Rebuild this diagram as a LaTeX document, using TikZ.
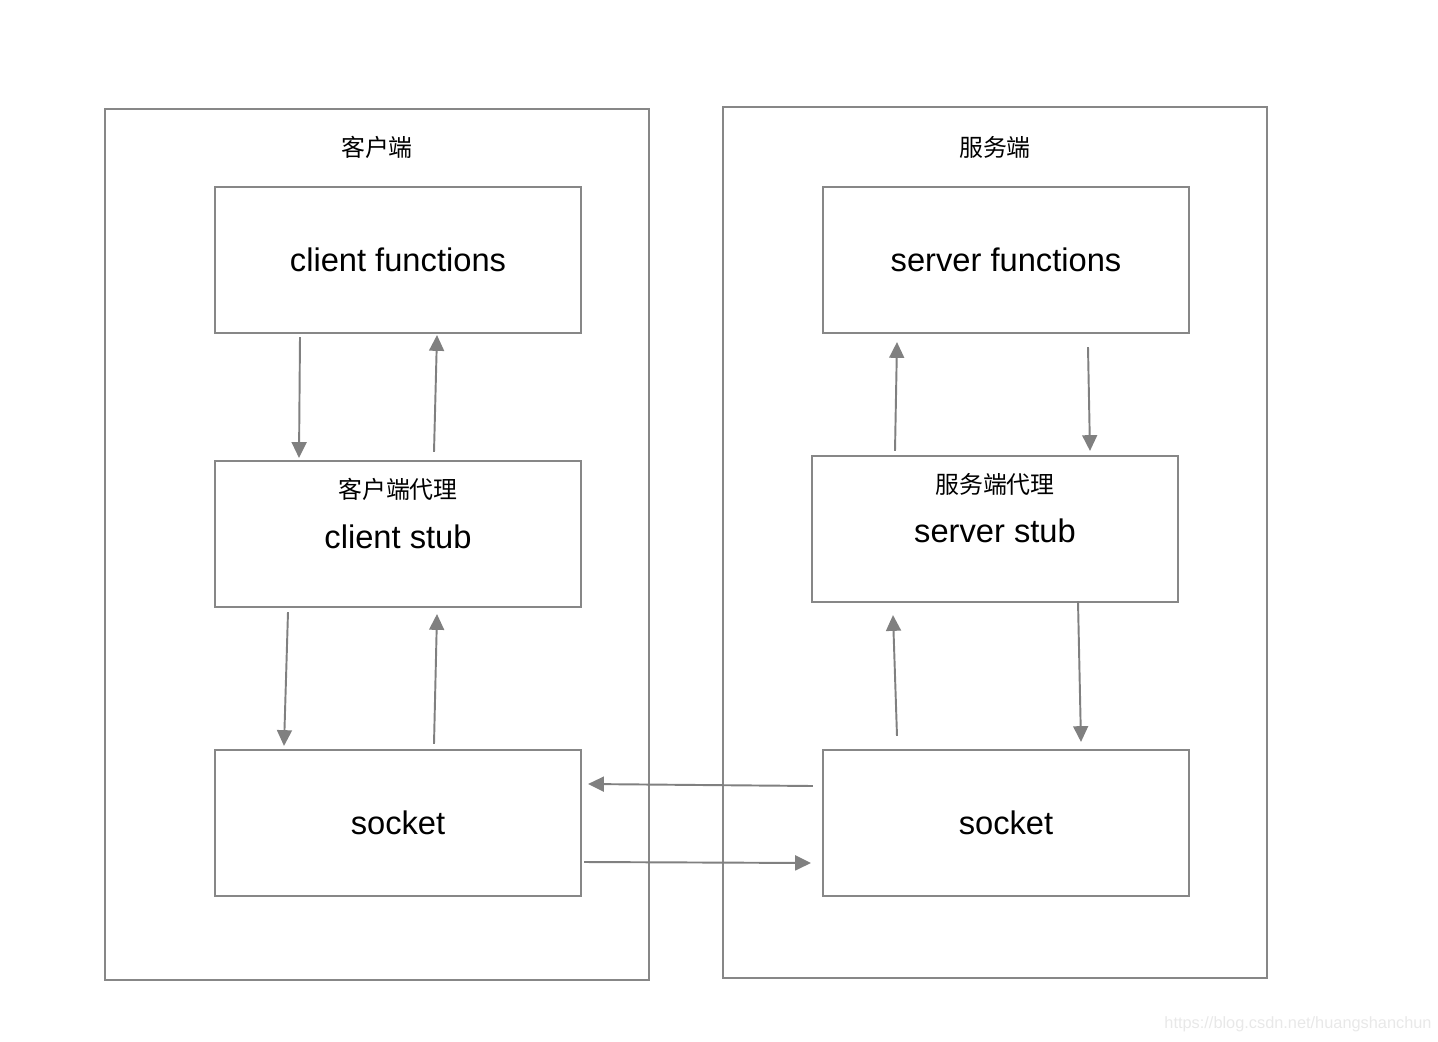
\documentclass[tikz,border=0pt]{standalone}
\usepackage{fontspec}
\setmainfont{Liberation Sans}
\newfontfamily\cjk{Noto Sans CJK SC}
\usetikzlibrary{arrows.meta,calc}
\definecolor{linegray}{HTML}{878787}
\definecolor{arrowgray}{HTML}{808080}

\tikzset{
  side/.style={draw=linegray,line width=1.2pt,minimum width=10.88cm,minimum height=17.42cm},
  box/.style={draw=linegray,line width=1.2pt,minimum width=7.32cm,minimum height=2.92cm,
    font=\fontsize{18.6}{22}\selectfont},
  cjktext/.style={font=\cjk\fontsize{13.6}{16}\selectfont},
  stubtext/.style={font=\fontsize{18.6}{22}\selectfont},
  arr/.style={draw=arrowgray,line width=1.1pt,-{Triangle[length=9pt,width=8.5pt]}}
}

\begin{document}
\begin{tikzpicture}[x=0.02cm,y=-0.02cm]
  \useasboundingbox (0,0) rectangle (1438,1042);

  % client side
  \node[side] (client) at (377,544.5) {};
  \node[cjktext] (clienttitle) at (377,147) {客户端};
  \node[box] (cfun) at (398,260) {client functions};
  \node[box] (cstub) at (398,534) {};
  \node[cjktext] (cstubcn) at (398,489) {客户端代理};
  \node[stubtext] (cstubname) at (398,537) {client stub};
  \node[box] (csock) at (398,823) {socket};

  % server side
  \node[side] (server) at (995,542.5) {};
  \node[cjktext] (servertitle) at (995,147) {服务端};
  \node[box] (sfun) at (1006,260) {server functions};
  \node[box] (sstub) at (995,529) {};
  \node[cjktext] (sstubcn) at (995,484) {服务端代理};
  \node[stubtext] (sstubname) at (995,531) {server stub};
  \node[box] (ssock) at (1006,823) {socket};

  \draw[arr] ($(cfun.south)+(-98,3)$) -- ($(cstub.north)+(-99,-2)$);
  \draw[arr] ($(cstub.north)+(36,-8)$) -- ($(cfun.south)+(39,1)$);
  \draw[arr] ($(cstub.south)+(-110,4)$) -- ($(csock.north)+(-114,-3)$);
  \draw[arr] ($(csock.north)+(36,-5)$) -- ($(cstub.south)+(39,6)$);

  \draw[arr] ($(sstub.north)+(-100,-4)$) -- ($(sfun.south)+(-109,8)$);
  \draw[arr] ($(sfun.south)+(82,13)$) -- ($(sstub.north)+(95,-4)$);
  \draw[arr] ($(ssock.north)+(-109,-13)$) -- ($(sstub.south)+(-102,12)$);
  \draw[arr] ($(sstub.south)+(83,-2)$) -- ($(ssock.north)+(75,-7)$);

  \draw[arr] ($(ssock.west)+(-9,-37)$) -- ($(csock.east)+(6,-39)$);
  \draw[arr] ($(csock.east)+(2,39)$) -- ($(ssock.west)+(-11,40)$);

  \node[font=\fontsize{9.3}{11}\selectfont,text=black!9] (mark) at (1298,1024) {https://blog.csdn.net/huangshanchun};
\end{tikzpicture}
\end{document}
